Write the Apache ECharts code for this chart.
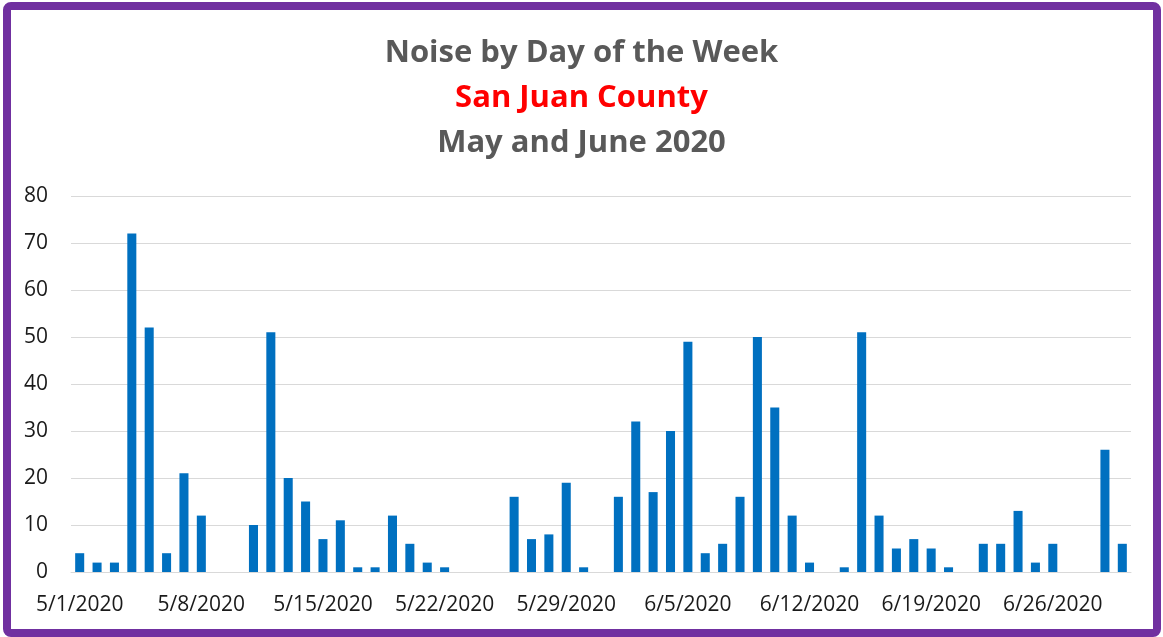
<!DOCTYPE html>
<html lang="en">
<head>
  <meta charset="UTF-8">
  <title>Noise by Day of the Week</title>
  <style>
    html, body { margin: 0; padding: 0; background: #fff; }
    #frame {
      position: absolute; left: 3px; top: 2px; width: 1158px; height: 635px;
      box-sizing: border-box; border: 8px solid #7030A0; border-radius: 8px;
    }
    #chart { position: absolute; left: 0; top: 0; width: 1163px; height: 637px; }
  </style>
</head>
<body>
  <div id="frame"></div>
  <div id="chart"></div>
  <script src="https://cdn.jsdelivr.net/npm/echarts@6/dist/echarts.min.js"></script>
  <script>
    // 5/1/2020 .. 6/30/2020, one value per day
    var days = []
    for (var m = 5; m <= 6; m++) {
      var last = m === 5 ? 31 : 30
      for (var d = 1; d <= last; d++) days.push(m + '/' + d + '/2020')
    }
    var noise = [
      4, 2, 2, 72, 52, 4, 21,
      12, 0, 0, 10, 51, 20, 15,
      7, 11, 1, 1, 12, 6, 2,
      1, 0, 0, 0, 16, 7, 8,
      19, 1, 0, 16, 32, 17, 30,
      49, 4, 6, 16, 50, 35, 12,
      2, 0, 1, 51, 12, 5, 7,
      5, 1, 0, 6, 6, 13, 2,
      6, 0, 0, 26, 6
    ]
    var yTicks = [0, 10, 20, 30, 40, 50, 60, 70, 80]

    var chart = echarts.init(document.getElementById('chart'))
    chart.setOption({
      animation: false,
      title: {
        left: 'center',
        top: 26,
        text: '{a|Noise by Day of the Week}\n{b|San Juan County}\n{a|May and June 2020}',
        textStyle: {
          rich: {
            a: { fontFamily: 'Open Sans', fontWeight: 'bold', fontSize: 31, color: '#595959', lineHeight: 45 },
            b: { fontFamily: 'Open Sans', fontWeight: 'bold', fontSize: 31, color: '#FF0000', lineHeight: 45 }
          }
        }
      },
      grid: { left: 71, right: 32, top: 196, bottom: 65 },
      xAxis: {
        type: 'category',
        data: days,
        axisLine: { lineStyle: { color: '#d9d9d9', width: 1 } },
        axisTick: { interval: 6, length: 7, lineStyle: { color: '#d9d9d9' } },
        axisLabel: {
          interval: 6, margin: 23, color: '#1a1a1a', fontSize: 21, fontFamily: 'Open Sans'
        }
      },
      yAxis: {
        type: 'value',
        min: yTicks[0],
        max: yTicks[yTicks.length - 1],
        interval: 10,
        axisLine: { show: false },
        axisTick: { show: false },
        axisLabel: { margin: 23, color: '#1a1a1a', fontSize: 21, fontFamily: 'Open Sans' },
        splitLine: { lineStyle: { color: '#d9d9d9', width: 1 } }
      },
      series: [{
        type: 'bar',
        data: noise,
        barCategoryGap: '48%',
        itemStyle: { color: '#0070C0' }
      }]
    })
  </script>
</body>
</html>
